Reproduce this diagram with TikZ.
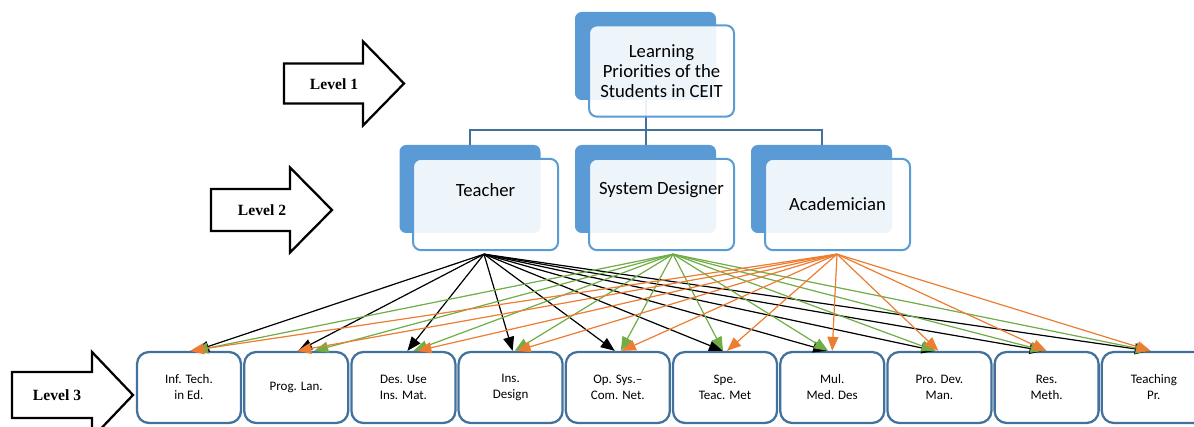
\documentclass[tikz,border=0pt]{standalone}
\usepackage{fontspec}
\setmainfont{Carlito}
\newfontfamily\levelfont{Liberation Serif}
\usetikzlibrary{arrows.meta,calc}

\definecolor{backblue}{HTML}{5B9BD5}
\definecolor{treeblue}{HTML}{41719C}
\definecolor{sysgreen}{HTML}{70AD47}
\definecolor{acaorange}{HTML}{ED7D31}

\tikzset{every picture/.style={line width=0.75pt}}
\tikzset{
  backbox/.style={fill=backblue, rounded corners=5pt, minimum width=105.75pt, minimum height=66pt, inner sep=0pt, outer sep=0pt},
  frontbox/.style={draw=backblue, line width=1.5pt, fill=white, fill opacity=0.9, text opacity=1, rounded corners=6pt, minimum width=108.75pt, minimum height=68.5pt, inner sep=0pt, outer sep=0pt, align=center, font=\fontsize{14}{15}\selectfont},
  boxtext/.style={align=center, font=\fontsize{14}{15}\selectfont},
  courseb/.style={draw=treeblue, line width=1.7pt, fill=white, rounded corners=9pt, minimum width=78pt, minimum height=53.25pt, inner sep=0pt, align=center, font=\fontsize{9.75}{12}\selectfont},
  tree/.style={draw=treeblue, line width=1.5pt},
  levelarrow/.style={draw=black, line width=1.7pt, fill=white, line join=miter},
  leveltext/.style={font=\levelfont\bfseries\fontsize{11.7}{14}\selectfont},
  prioarrow/.style={line width=0.9pt, -{Triangle[length=10.5pt,width=8.25pt]}},
  tchedge/.style={prioarrow, draw=black, fill=black},
  sysedge/.style={prioarrow, draw=sysgreen, fill=sysgreen},
  acaedge/.style={prioarrow, draw=acaorange, fill=acaorange}
}

\begin{document}
\begin{tikzpicture}[x=0.75pt,y=0.75pt,yscale=-1,xscale=1]

\useasboundingbox (0,0) rectangle (1194,427);
\clip (0,0) rectangle (1194,427);

% Level arrows
\draw[levelarrow] (284,63.5) -- (363,63.5) -- (363,41.5) -- (404,83.5) -- (363,125.5) -- (363,103.5) -- (284,103.5) -- cycle ;
\draw (334,84) node[leveltext] (lv1) {Level 1};
\draw[levelarrow] (211,189) -- (290,189) -- (290,167.5) -- (332,210) -- (290,252.5) -- (290,231) -- (211,231) -- cycle ;
\draw (262,210) node[leveltext] (lv2) {Level 2};
\draw[levelarrow] (12,372) -- (92,372) -- (92,352) -- (133,395) -- (92,438) -- (92,418) -- (12,418) -- cycle ;
\draw (57,395) node[leveltext] (lv3) {Level 3};

% Back boxes
\node[backbox] (top-b) at (645.5,56) {};
\node[backbox] (tch-b) at (470,189) {};
\node[backbox] (sys-b) at (645.5,189) {};
\node[backbox] (aca-b) at (821.5,189) {};

% Tree
\coordinate (tree-mid) at ($(top-b.south)+(0,30)$);
\draw[tree] (top-b.south) -- (tree-mid);
\draw[tree] (tch-b.north) |- (tree-mid) -| (aca-b.north);
\draw[tree] (sys-b.north) -- (tree-mid);

% Front boxes
\node[frontbox] (top) at ($(top-b.center)+(16,15)$) {Learning\\Priorities of the\\Students in CEIT};
\node[frontbox] (tch) at ($(tch-b.center)+(15.5,15.5)$) {};
\node[boxtext] (tch-t) at ($(tch.center)+(0,-14.5)$) {Teacher};
\node[frontbox] (sys) at ($(sys-b.center)+(16,15.5)$) {};
\node[boxtext] (sys-t) at ($(sys.center)+(0,-14.5)$) {System Designer};
\node[frontbox] (aca) at ($(aca-b.center)+(16,15.5)$) {Academician};

% Level 3 boxes
\node[courseb] (b1) at (189,387.5) {Inf. Tech.\\in Ed.};
\node[courseb] (b2) at (296.2,387.5) {Prog. Lan.};
\node[courseb] (b3) at (403.4,387.5) {Des. Use\\Ins. Mat.};
\node[courseb] (b4) at (510.6,387.5) {Ins.\\Design};
\node[courseb] (b5) at (617.8,387.5) {Op. Sys.--\\Com. Net.};
\node[courseb] (b6) at (725,387.5) {Spe.\\Teac. Met};
\node[courseb] (b7) at (832.2,387.5) {Mul.\\Med. Des};
\node[courseb] (b8) at (939.4,387.5) {Pro. Dev.\\Man.};
\node[courseb] (b9) at (1046.6,387.5) {Res.\\Meth.};
\node[courseb] (b10) at (1153.8,387.5) {Teaching\\Pr.};

% Sources
\coordinate (tch-o) at ($(tch.south)+(-1.5,4)$);
\coordinate (sys-o) at ($(sys.south)+(11.5,4)$);
\coordinate (aca-o) at ($(aca.south)+(-0.5,4)$);

% Teacher
\draw[tchedge] (tch-o) -- ($(b1.north)+(6,0)$);
\draw[tchedge] (tch-o) -- ($(b2.north)+(2,0)$);
\draw[tchedge] (tch-o) -- ($(b3.north)+(4,0)$);
\draw[tchedge] (tch-o) -- ($(b4.north)+(2,0)$);
\draw[tchedge] (tch-o) -- ($(b5.north)+(-3,0)$);
\draw[tchedge] (tch-o) -- ($(b6.north)+(-2,0)$);
\draw[tchedge] (tch-o) -- ($(b7.north)+(-5,0)$);
\draw[tchedge] (tch-o) -- ($(b8.north)+(-4,0)$);
\draw[tchedge] (tch-o) -- ($(b9.north)+(-3,0)$);
\draw[tchedge] (tch-o) -- ($(b10.north)+(-5,0)$);

% System Designer
\draw[sysedge] (sys-o) -- ($(b1.north)+(5,0)$);
\draw[sysedge] (sys-o) -- ($(b2.north)+(18,0)$);
\draw[sysedge] (sys-o) -- ($(b3.north)+(10,0)$);
\draw[sysedge] (sys-o) -- ($(b4.north)+(4,0)$);
\draw[sysedge] (sys-o) -- ($(b5.north)+(3,0)$);
\draw[sysedge] (sys-o) -- ($(b6.north)+(-2,0)$);
\draw[sysedge] (sys-o) -- ($(b7.north)+(-4,0)$);
\draw[sysedge] (sys-o) -- ($(b8.north)+(-4,0)$);
\draw[sysedge] (sys-o) -- ($(b9.north)+(-2,0)$);
\draw[sysedge] (sys-o) -- ($(b10.north)+(-4,0)$);

% Academician
\draw[acaedge] (aca-o) -- ($(b1.north)+(1,0)$);
\draw[acaedge] (aca-o) -- ($(b2.north)+(1,0)$);
\draw[acaedge] (aca-o) -- ($(b3.north)+(14,0)$);
\draw[acaedge] (aca-o) -- ($(b4.north)+(6,0)$);
\draw[acaedge] (aca-o) -- ($(b5.north)+(4,0)$);
\draw[acaedge] (aca-o) -- ($(b6.north)+(2,0)$);
\draw[acaedge] (aca-o) -- ($(b7.north)+(0,0)$);
\draw[acaedge] (aca-o) -- ($(b8.north)+(-1,0)$);
\draw[acaedge] (aca-o) -- ($(b9.north)+(0,0)$);
\draw[acaedge] (aca-o) -- ($(b10.north)+(-3,0)$);

\end{tikzpicture}
\end{document}
